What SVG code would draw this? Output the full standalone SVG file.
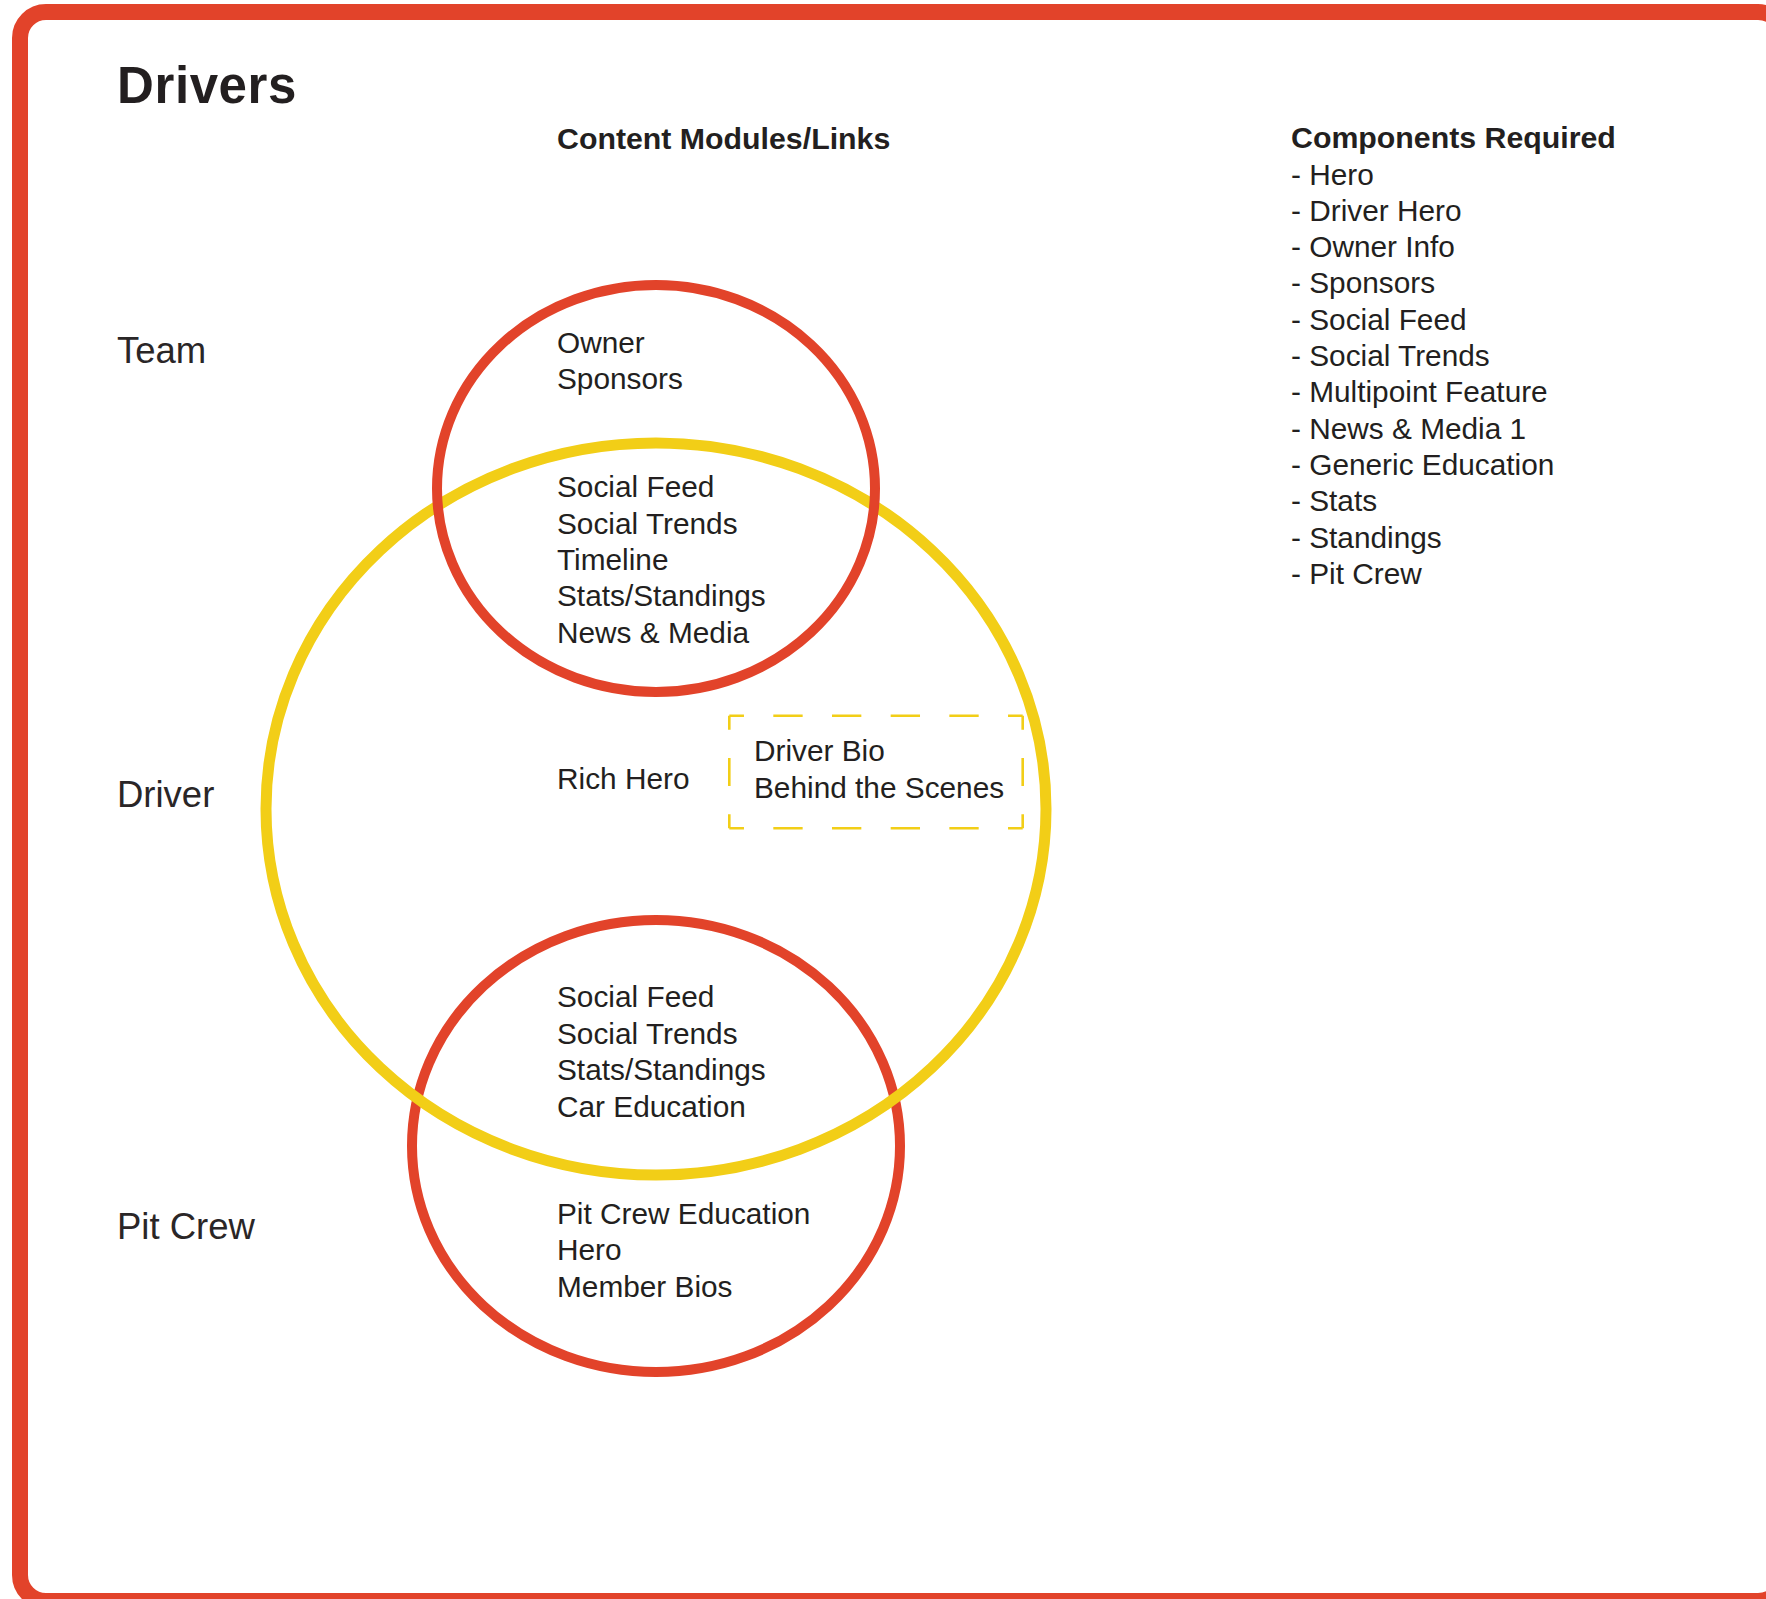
<svg xmlns="http://www.w3.org/2000/svg" width="1766" height="1599" viewBox="0 0 1766 1599">
<style>
.frame{fill:#fff;stroke:#E2432A;stroke-width:16}
.red{fill:none;stroke:#E2432A;stroke-width:10}
.yel{fill:none;stroke:#F2CE17;stroke-width:11}
.dash{stroke:#F2CE17;stroke-width:2.6;fill:none}
text{font-family:"Liberation Sans",Arial,sans-serif;fill:#231F20}
.title{font-size:51px;font-weight:bold;letter-spacing:0.6px}
.head{font-size:30.3px;font-weight:bold}
.body{font-size:29.8px}
.side{font-size:36.5px;fill:#2a2627}
</style>
<rect class="frame" x="20" y="12" width="1764" height="1589" rx="26" ry="26"/>
<text class="title" x="117" y="103">Drivers</text>
<text class="head" x="557" y="148.5">Content Modules/Links</text>

<g id="components">
<text class="head" x="1291" y="148">Components Required</text>
<text class="body" x="1291" y="184.5">- Hero</text>
<text class="body" x="1291" y="220.8">- Driver Hero</text>
<text class="body" x="1291" y="257.1">- Owner Info</text>
<text class="body" x="1291" y="293.4">- Sponsors</text>
<text class="body" x="1291" y="329.7">- Social Feed</text>
<text class="body" x="1291" y="366">- Social Trends</text>
<text class="body" x="1291" y="402.3">- Multipoint Feature</text>
<text class="body" x="1291" y="438.6">- News &amp; Media 1</text>
<text class="body" x="1291" y="474.9">- Generic Education</text>
<text class="body" x="1291" y="511.2">- Stats</text>
<text class="body" x="1291" y="547.5">- Standings</text>
<text class="body" x="1291" y="583.8">- Pit Crew</text>
</g>

<g id="labels">
<text class="side" x="117" y="363.3">Team</text>
<text class="side" x="117" y="807">Driver</text>
<text class="side" x="117" y="1238.5">Pit Crew</text>
</g>

<g id="pitcrew-circle">
<ellipse class="red" cx="656" cy="1146" rx="244" ry="226"/>
</g>
<g id="driver-circle">
<ellipse class="yel" cx="656" cy="809" rx="390" ry="366"/>
</g>
<g id="team-circle">
<ellipse class="red" cx="656" cy="488.5" rx="219" ry="203.5"/>
</g>

<g id="team-only">
<text class="body" x="557" y="353">Owner</text>
<text class="body" x="557" y="389.3">Sponsors</text>
</g>
<g id="team-driver">
<text class="body" x="557" y="497.3">Social Feed</text>
<text class="body" x="557" y="533.6">Social Trends</text>
<text class="body" x="557" y="569.9">Timeline</text>
<text class="body" x="557" y="606.2">Stats/Standings</text>
<text class="body" x="557" y="642.5">News &amp; Media</text>
</g>
<g id="driver-only">
<text class="body" x="557" y="789">Rich Hero</text>
</g>
<g id="driver-extra">
<line class="dash" x1="729.3" y1="715.7" x2="1022.7" y2="715.7" stroke-dasharray="29.34 29.34" stroke-dashoffset="14.67"/>
<line class="dash" x1="729.3" y1="828.3" x2="1022.7" y2="828.3" stroke-dasharray="29.34 29.34" stroke-dashoffset="14.67"/>
<line class="dash" x1="729.3" y1="715.7" x2="729.3" y2="828.3" stroke-dasharray="28.15 28.15" stroke-dashoffset="14.07"/>
<line class="dash" x1="1022.7" y1="715.7" x2="1022.7" y2="828.3" stroke-dasharray="28.15 28.15" stroke-dashoffset="14.07"/>
<text class="body" x="754" y="761">Driver Bio</text>
<text class="body" x="754" y="797.7">Behind the Scenes</text>
</g>
<g id="driver-pitcrew">
<text class="body" x="557" y="1007">Social Feed</text>
<text class="body" x="557" y="1043.5">Social Trends</text>
<text class="body" x="557" y="1080">Stats/Standings</text>
<text class="body" x="557" y="1116.5">Car Education</text>
</g>
<g id="pitcrew-only">
<text class="body" x="557" y="1223.8">Pit Crew Education</text>
<text class="body" x="557" y="1260.3">Hero</text>
<text class="body" x="557" y="1296.8">Member Bios</text>
</g>
<g id="connectors"/>
</svg>
